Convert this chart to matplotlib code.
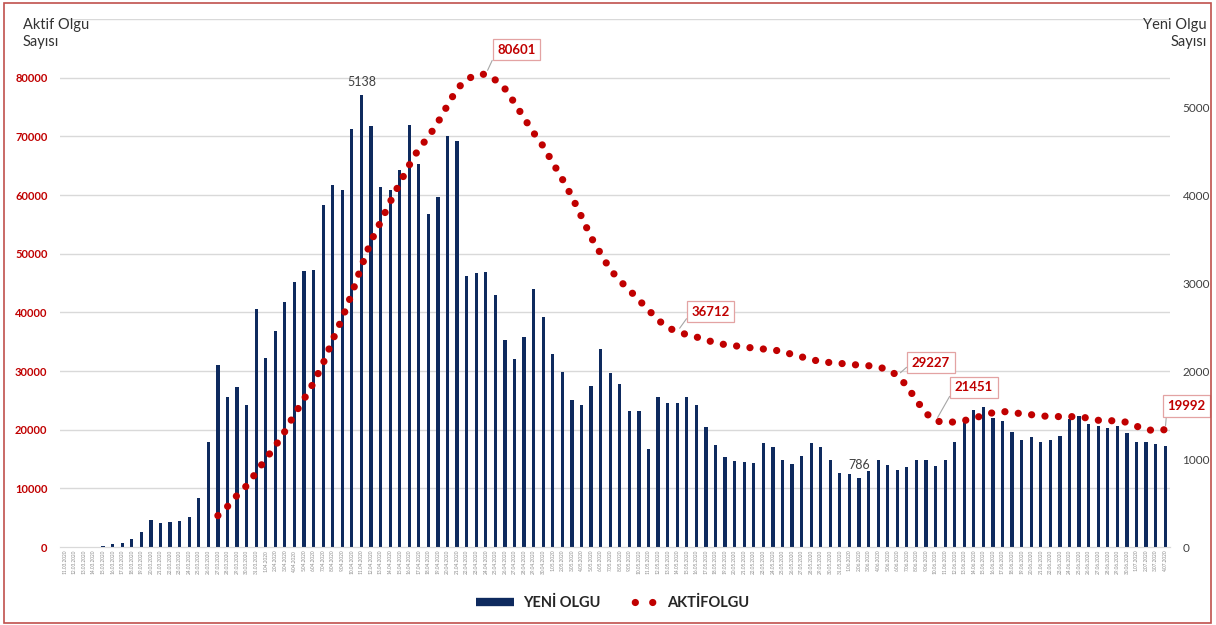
import numpy as np
import pandas as pd
import matplotlib
matplotlib.use('Agg')
import matplotlib.pyplot as plt
from matplotlib.lines import Line2D
from matplotlib.patches import Rectangle

plt.rcParams['font.family'] = ['Lato', 'DejaVu Sans']

# Günlük yeni olgu sayıları (11.03.2020 - 04.07.2020)
dates = pd.date_range('2020-03-11', '2020-07-04', freq='D')
date_labels = [f'{d.day}.{d.month:02d}.{d.year}' for d in dates]
yeni_olgu = [
    1, 0, 4, 1, 12, 29, 51, 93, 168, 311, 277, 289, 293, 343, 561, 1196,
    2069, 1704, 1815, 1610, 2704, 2148, 2456, 2786, 3013, 3135, 3148, 3892,
    4117, 4056, 4747, 5138, 4789, 4093, 4062, 4281, 4801, 4353, 3783, 3977,
    4674, 4611, 3083, 3116, 3122, 2861, 2357, 2131, 2392, 2936, 2615, 2188,
    1983, 1670, 1614, 1832, 2253, 1977, 1848, 1546, 1542, 1114, 1704, 1635,
    1639, 1708, 1610, 1368, 1158, 1022, 972, 961, 952, 1186, 1141, 987,
    948, 1035, 1182, 1141, 983, 839, 827, 786, 867, 988, 930, 878,
    914, 989, 993, 922, 987, 1195, 1459, 1562, 1592, 1467, 1429, 1304,
    1214, 1248, 1192, 1212, 1263, 1458, 1492, 1396, 1372, 1356, 1374, 1293,
    1192, 1188, 1172, 1148,
]

# Aktif olgu sayısı (27.03.2020'den itibaren)
aktif_start = 16
aktif_olgu = [
    5350, 6900, 8800, 10450, 12700, 15000, 17200, 19700, 22600, 25200,
    28000, 31300, 35300, 39000, 43200, 47800, 52100, 55400, 58800, 62000,
    65100, 67900, 69900, 72400, 75300, 78100, 79700, 80500, 80601, 79600,
    78100, 75700, 73100, 70600, 68300, 65500, 62700, 59700, 56300, 52800,
    50000, 47300, 45400, 43800, 42100, 40400, 38700, 37400, 36712, 36200,
    35800, 35300, 34800, 34500, 34300, 34100, 33900, 33750, 33550, 33400,
    32800, 32400, 32050, 31500, 31450, 31300, 31150, 31000, 30900, 30650,
    30300, 29227, 27450, 25000, 22800, 21451, 21300, 21300, 21550, 21950,
    22450, 22900, 23100, 22950, 22700, 22550, 22350, 22250, 22230, 22230,
    22200, 21950, 21600, 21500, 21550, 21250, 20600, 19950, 19900, 19992,
]

# etiketli noktalar: (gün indeksi, kutu konumu x, kutu konumu y)
labelled = [(44, 47.2, 84800), (64, 67.5, 40100), (87, 90.5, 31400),
            (91, 95.0, 27200), (115, 117.2, 24050)]

navy = '#0E2A5E'
red = '#C00000'
grid_c = '#D9D9D9'
dot_style = (0, (0.01, 1.85))

fig = plt.figure(figsize=(12.16, 6.25), dpi=100)
ax_bar = fig.add_axes([60 / 1216, 78 / 625, 1110 / 1216, 528 / 625])
ax_line = ax_bar.twinx()

x = np.arange(len(yeni_olgu))
ax_bar.bar(x, yeni_olgu, width=0.34, color=navy, zorder=3)
ax_bar.set_xlim(-0.5, len(yeni_olgu) - 0.5)
ax_bar.set_ylim(0, 6000)
ax_line.set_ylim(0, 90000)

# yatay kılavuz çizgileri (sol eksen, barların arkasında)
for v in range(10000, 90001, 10000):
    ax_bar.axhline(v * 6000 / 90000, color=grid_c, lw=1, zorder=0)

xa = np.arange(aktif_start, aktif_start + len(aktif_olgu))
ax_line.plot(xa, aktif_olgu, color=red, lw=5.2, dash_capstyle='round',
             linestyle=dot_style, zorder=4)

# eksenler
ax_bar.yaxis.tick_right()
ax_line.yaxis.tick_left()
ax_bar.set_yticks(range(0, 6001, 1000))
ax_bar.set_yticklabels([str(v) for v in range(0, 5001, 1000)] + [''])
ax_bar.tick_params(axis='y', length=0, pad=9, labelsize=8.5, labelcolor='#404040')
ax_line.set_yticks(range(0, 90001, 10000))
ax_line.set_yticklabels([str(v) for v in range(0, 80001, 10000)] + [''],
                        fontweight='bold')
ax_line.tick_params(axis='y', length=0, pad=9, labelsize=8, labelcolor=red)
ax_bar.set_xticks(x)
ax_bar.set_xticklabels(date_labels, rotation=90, fontsize=3.4, color='#8C8C8C')
ax_bar.tick_params(axis='x', length=0, pad=2)
for a in (ax_bar, ax_line):
    for s in ('top', 'left', 'right'):
        a.spines[s].set_visible(False)
    a.spines['bottom'].set_color(grid_c)

# veri etiketleri
for i in (31, 83):
    ax_bar.annotate(str(yeni_olgu[i]), (i, yeni_olgu[i]), xytext=(0, 5),
                    textcoords='offset points', ha='center', va='bottom',
                    fontsize=9, color='#404040', zorder=5)

for i, tx, ty in labelled:
    v = aktif_olgu[i - aktif_start]
    ax_line.annotate(str(v), (i, v), xytext=(tx, ty), textcoords='data',
                     ha='center', va='center', fontsize=9.5, fontweight='bold',
                     color=red, annotation_clip=False, zorder=6,
                     bbox=dict(boxstyle='square,pad=0.35', fc='white',
                               ec='#E3A3A3', lw=0.9),
                     arrowprops=dict(arrowstyle='-', color='#A6A6A6', lw=0.8,
                                     shrinkA=0, shrinkB=3, relpos=(0, 0.5)))

# eksen başlıkları
fig.text(23 / 1216, 1 - 18 / 625, 'Aktif Olgu\nSayısı', ha='left', va='top',
         fontsize=10.5, color='#333333', linespacing=1.3)
fig.text(1207 / 1216, 1 - 18 / 625, 'Yeni Olgu\nSayısı', ha='right', va='top',
         fontsize=10.5, color='#333333', linespacing=1.3, multialignment='right')

# lejant
handles = [Line2D([], [], color=navy, lw=6, solid_capstyle='butt'),
           Line2D([], [], color=red, lw=5.2, dash_capstyle='round',
                  linestyle=(0.5, (0.01, 2.4)))]
leg = fig.legend(handles, ['YENİ OLGU', 'AKTİFOLGU'], loc='center',
                 bbox_to_anchor=(613 / 1216, 1 - 603 / 625), ncol=2,
                 frameon=False, handlelength=2.6, handletextpad=0.6,
                 columnspacing=1.4, prop={'size': 10.5, 'weight': 'bold'})
for t in leg.get_texts():
    t.set_color('#262626')

# çerçeve
fig.patches.append(Rectangle((4 / 1216, 2 / 625), 1207 / 1216, 620 / 625,
                             transform=fig.transFigure, fill=False,
                             edgecolor='#C0504D', lw=1.2))

fig.savefig('out.png', dpi=100)
plt.close(fig)
